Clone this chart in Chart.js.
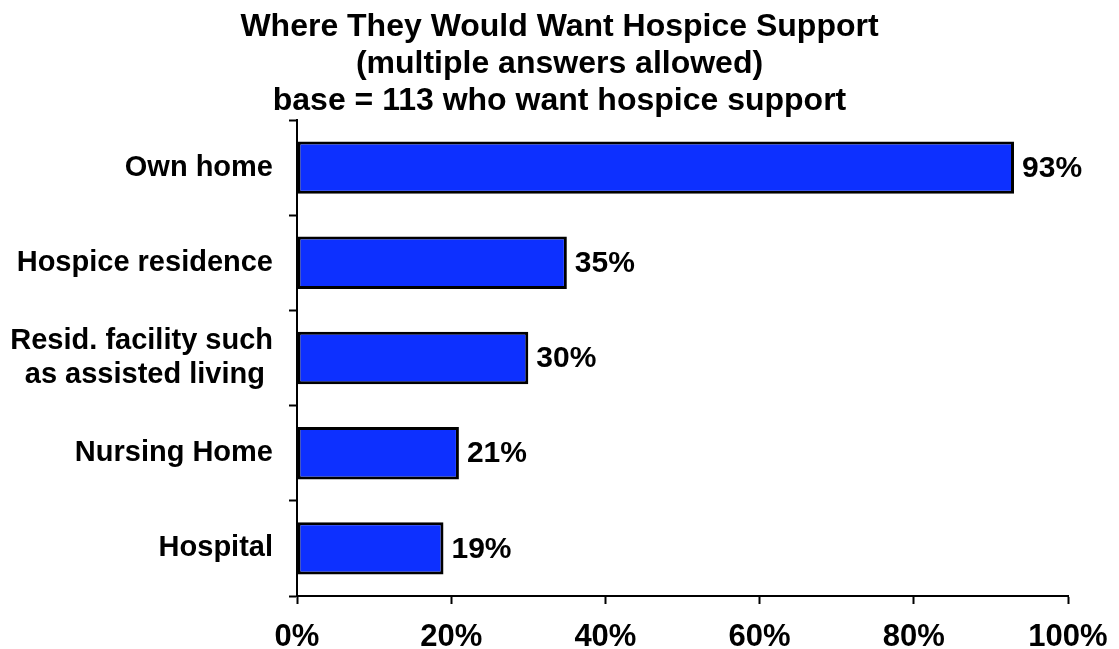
<!DOCTYPE html>
<html>
<head>
<meta charset="utf-8">
<script src="https://cdn.jsdelivr.net/npm/chart.js@4"></script>
<style>
  html, body { margin: 0; padding: 0; background: #fff; }
  #wrap { width: 1119px; height: 649px; }
</style>
</head>
<body>
<div id="wrap"><canvas id="chart" width="1119" height="649"></canvas></div>
<script>
// chart data
const titleLines = ['Where They Would Want Hospice Support', '(multiple answers allowed)', 'base = 113 who want hospice support'];
const categories = ['Own home', 'Hospice residence', ['Resid. facility such', 'as assisted living '], 'Nursing Home', 'Hospital'];
const percentages = [93, 35, 30, 21, 19];
const xTicks = [0, 20, 40, 60, 80, 100];

const FONT = "'Liberation Sans', Arial, Helvetica, sans-serif";
const BAR_BLUE = '#0d30ff';

// draws "93%" etc. just right of each bar end
const valueLabels = {
  id: 'valueLabels',
  afterDatasetsDraw(chart) {
    const ctx = chart.ctx;
    const meta = chart.getDatasetMeta(0);
    ctx.save();
    ctx.font = 'bold 30px ' + FONT;
    ctx.fillStyle = '#000';
    ctx.textAlign = 'left';
    ctx.textBaseline = 'middle';
    meta.data.forEach((bar, i) => {
      ctx.fillText(percentages[i] + '%', bar.x + 8, bar.y + 1);
    });
    ctx.restore();
  }
};

new Chart(document.getElementById('chart'), {
  type: 'bar',
  data: {
    labels: categories,
    datasets: [{
      data: percentages,
      backgroundColor: BAR_BLUE,
      borderColor: '#000',
      borderWidth: 3,
      borderSkipped: false,
      categoryPercentage: 1,
      barPercentage: 0.55
    }]
  },
  plugins: [valueLabels],
  options: {
    indexAxis: 'y',
    responsive: false,
    animation: false,
    layout: { padding: 0 },
    plugins: {
      legend: { display: false },
      tooltip: { enabled: false },
      title: {
        display: true,
        text: titleLines,
        color: '#000',
        font: { family: FONT, size: 32, weight: 'bold', lineHeight: '37px' },
        padding: { top: 9, bottom: 0 }
      }
    },
    scales: {
      x: {
        type: 'linear',
        min: 0,
        max: 100,
        afterBuildTicks: (axis) => { axis.ticks = xTicks.map(v => ({ value: v })); },
        afterFit: (axis) => {
          axis.height = 53;
          axis.paddingLeft = 0;
          axis.paddingRight = 51; // room on the right of the plot
        },
        border: { display: true, color: '#000', width: 2 },
        grid: { drawOnChartArea: false, drawTicks: true, tickLength: 8, tickColor: '#000', tickWidth: 2 },
        ticks: {
          color: '#000',
          padding: 15,
          maxRotation: 0,
          font: { family: FONT, size: 31, weight: 'bold' },
          callback: (v) => v + '%'
        }
      },
      y: {
        afterFit: (axis) => { axis.width = 297; },
        border: { display: true, color: '#000', width: 2 },
        grid: { offset: true, drawOnChartArea: false, drawTicks: true, tickLength: 8, tickColor: '#000', tickWidth: 2 },
        ticks: {
          color: '#000',
          padding: 16,
          font: { family: FONT, size: 29, weight: 'bold' }
        }
      }
    }
  }
});
</script>
</body>
</html>
